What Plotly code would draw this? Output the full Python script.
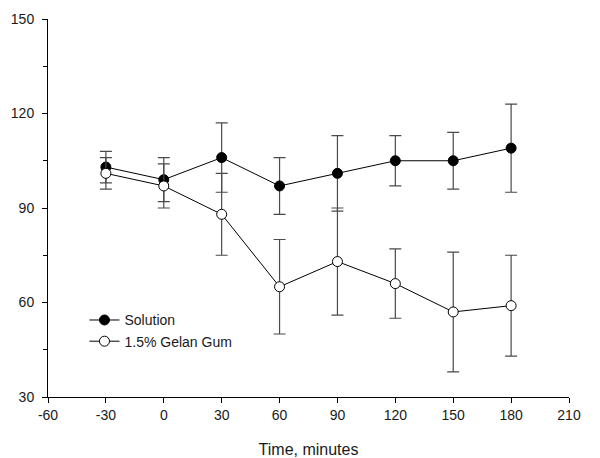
import plotly.graph_objects as go

time = [-30, 0, 30, 60, 90, 120, 150, 180]
solution = [103, 99, 106, 97, 101, 105, 105, 109]
solution_err = [5, 7, 11, 9, 12, 8, 9, 14]
gelan = [101, 97, 88, 65, 73, 66, 57, 59]
gelan_err = [5, 7, 13, 15, 17, 11, 19, 16]

x_ticks = [-60, -30, 0, 30, 60, 90, 120, 150, 180, 210]
y_ticks = [30, 60, 90, 120, 150]

font = "Liberation Sans, Arial, Helvetica, sans-serif"
err_color = "#4a4a4a"

fig = go.Figure()
fig.add_trace(go.Scatter(
    x=time, y=solution, name="Solution", mode="lines+markers",
    line=dict(color="black", width=1),
    marker=dict(size=10, color="black", line=dict(color="black", width=1)),
    error_y=dict(type="data", array=solution_err, visible=True,
                 color=err_color, thickness=1.2, width=6),
))
fig.add_trace(go.Scatter(
    x=time, y=gelan, name="1.5% Gelan Gum", mode="lines+markers",
    line=dict(color="black", width=1),
    marker=dict(size=10, color="white", line=dict(color="black", width=1)),
    error_y=dict(type="data", array=gelan_err, visible=True,
                 color=err_color, thickness=1.2, width=6),
))

fig.update_layout(
    width=600, height=458,
    margin=dict(l=48, r=31, t=19, b=61),
    paper_bgcolor="white", plot_bgcolor="white",
    font=dict(family=font, size=14, color="#1a1a1a"),
    showlegend=True,
    legend=dict(x=0.07, y=0.245, xanchor="left", yanchor="top",
                bgcolor="rgba(0,0,0,0)", font=dict(size=14),
                tracegroupgap=0, itemwidth=30),
    xaxis=dict(
        range=[-60, 210], tickvals=x_ticks, ticktext=[str(v) for v in x_ticks],
        showgrid=False, zeroline=False, showline=True, linecolor="black",
        linewidth=1, ticks="outside", ticklen=5, tickcolor="black",
        automargin=False,
        title=dict(text="Time, minutes", font=dict(size=16), standoff=22),
    ),
    yaxis=dict(
        range=[30, 150], tickvals=y_ticks, ticktext=[str(v) for v in y_ticks],
        showgrid=False, zeroline=False, showline=True, linecolor="black",
        linewidth=1, ticks="outside", ticklen=5, tickcolor="black",
        automargin=False, ticklabelstandoff=5,
        minor=dict(tickvals=[45, 75, 105, 135], ticks="outside", ticklen=4,
                   tickcolor="black", showgrid=False),
    ),
)

fig.write_html("out.html", config={"displayModeBar": False},
               post_script="document.body.style.margin='0px';")
